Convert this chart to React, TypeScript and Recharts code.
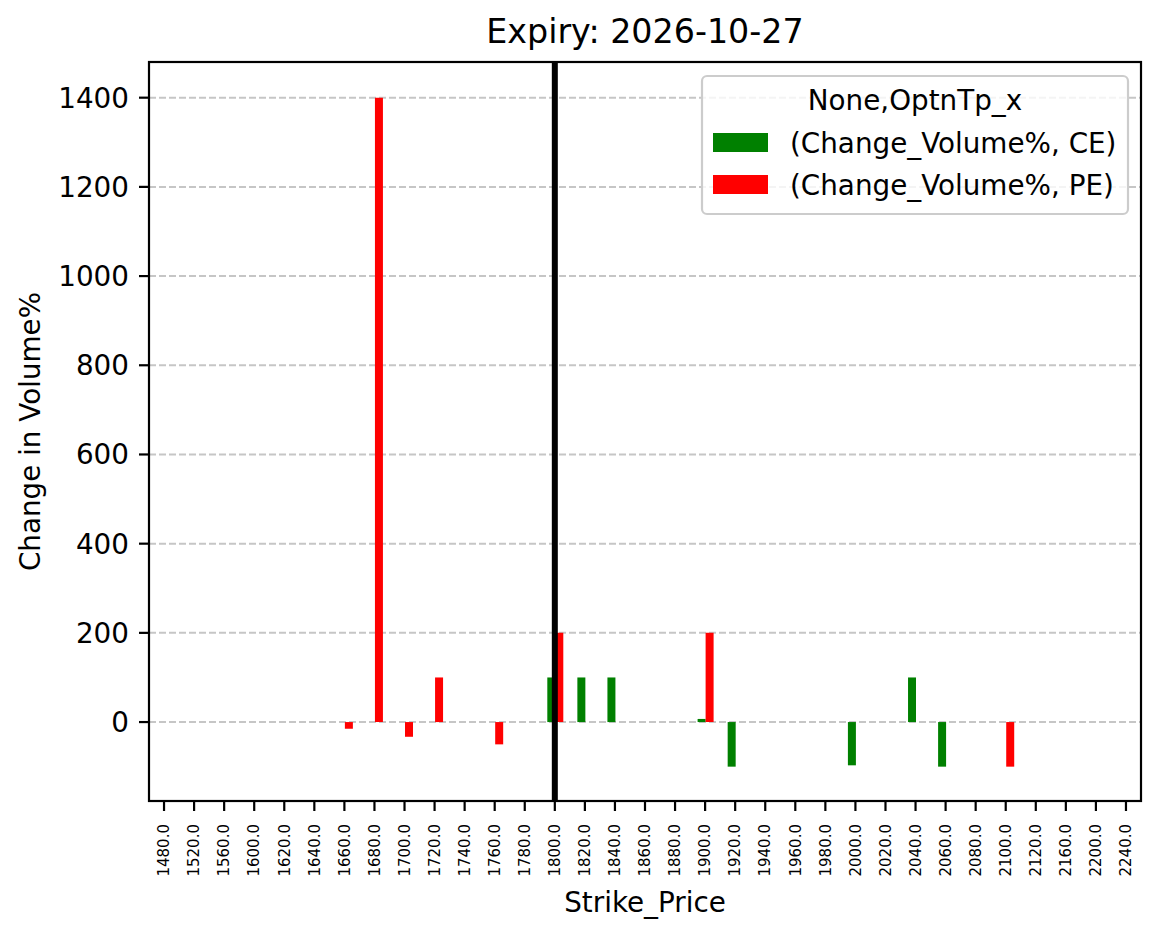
import { BarChart, Bar, XAxis, YAxis, CartesianGrid, ReferenceLine } from 'recharts';

const strikes = [
  '1480.0', '1520.0', '1560.0', '1600.0', '1620.0', '1640.0', '1660.0', '1680.0', '1700.0',
  '1720.0', '1740.0', '1760.0', '1780.0', '1800.0', '1820.0', '1840.0', '1860.0', '1880.0',
  '1900.0', '1920.0', '1940.0', '1960.0', '1980.0', '2000.0', '2020.0', '2040.0', '2060.0',
  '2080.0', '2100.0', '2120.0', '2160.0', '2200.0', '2240.0',
];

// Change_Volume% for calls (CE) and puts (PE); null = no bar
const ceValues = [
  null, null, null, null, null, null, null, null, null, null, null, null, null,
  100, 100, 100, null, null, 7, -100, null, null, null, -97, null, 100, -100,
  null, null, null, null, null, null,
];
const peValues = [
  null, null, null, null, null, null, -15, 1400, -33, 100, null, -50, null,
  200, null, null, null, null, 200, null, null, null, null, null, null, null, null,
  null, -100, null, null, null, null,
];

const yTicks = [0, 200, 400, 600, 800, 1000, 1200, 1400];
const spotStrike = '1800.0';

const series = [
  { key: 'ce', name: '(Change_Volume%, CE)', color: '#008000' },
  { key: 'pe', name: '(Change_Volume%, PE)', color: '#ff0000' },
];

const data = strikes.map((s, i) => ({ strike: s, ce: ceValues[i], pe: peValues[i] }));

const FONT = 'DejaVu Sans';
const W = 1161;
const H = 939;
const PLOT = { left: 149, top: 62, right: 1141, bottom: 801 };

const XTick = ({ x, y, payload }: any) => (
  <text
    x={x}
    y={y}
    transform={`rotate(-90 ${x} ${y})`}
    textAnchor="end"
    dy="0.35em"
    fontSize={15}
    fontFamily={FONT}
    fill="#000"
  >
    {payload.value}
  </text>
);

export default function App() {
  const cx = (PLOT.left + PLOT.right) / 2;
  const cy = (PLOT.top + PLOT.bottom) / 2;

  return (
    <div style={{ position: 'absolute', left: 0, top: 0, width: W, height: H, background: '#fff' }}>
      <BarChart
        width={W}
        height={H}
        data={data}
        margin={{ top: PLOT.top, right: W - PLOT.right, bottom: 0, left: 0 }}
        barCategoryGap="25%"
        barGap={0}
      >
        <CartesianGrid vertical={false} stroke="#c6c6c6" strokeWidth={2} strokeDasharray="7 3" />
        <XAxis
          dataKey="strike"
          interval={0}
          height={H - PLOT.bottom}
          axisLine={false}
          tickSize={10}
          tickMargin={13}
          tickLine={{ stroke: '#000', strokeWidth: 2.2 }}
          tick={<XTick />}
        />
        <YAxis
          width={PLOT.left}
          domain={[-177, 1480]}
          allowDataOverflow
          ticks={yTicks}
          axisLine={false}
          tickSize={10}
          tickMargin={10}
          tickLine={{ stroke: '#000', strokeWidth: 2.2 }}
          tick={{ fill: '#000', fontSize: 27.8, fontFamily: FONT }}
        />
        {series.map(s => (
          <Bar key={s.key} dataKey={s.key} name={s.name} fill={s.color} isAnimationActive={false} />
        ))}
        <ReferenceLine x={spotStrike} stroke="#000" strokeWidth={6} />
      </BarChart>

      <svg
        width={W}
        height={H}
        style={{ position: 'absolute', left: 0, top: 0, pointerEvents: 'none' }}
        fontFamily={FONT}
      >
        <rect
          x={PLOT.left}
          y={PLOT.top}
          width={PLOT.right - PLOT.left}
          height={PLOT.bottom - PLOT.top}
          fill="none"
          stroke="#000"
          strokeWidth={2.2}
        />
        <text x={cx} y={43} textAnchor="middle" fontSize={33.3} fill="#000">
          Expiry: 2026-10-27
        </text>
        <text x={cx} y={912} textAnchor="middle" fontSize={27.8} fill="#000">
          Strike_Price
        </text>
        <text
          x={40}
          y={cy}
          transform={`rotate(-90 40 ${cy})`}
          textAnchor="middle"
          fontSize={27.8}
          fill="#000"
        >
          Change in Volume%
        </text>

        {/* legend */}
        <rect x={702} y={76} width={426} height={138} rx={5} fill="#fff" fillOpacity={0.8} stroke="#cccccc" strokeWidth={2.2} />
        <text x={915} y={110} textAnchor="middle" fontSize={27.8} fill="#000">
          None,OptnTp_x
        </text>
        {series.map((s, i) => (
          <g key={s.key}>
            <rect x={713} y={133 + i * 42} width={55} height={19} fill={s.color} />
            <text x={790} y={153 + i * 42} fontSize={27.8} fill="#000">
              {s.name}
            </text>
          </g>
        ))}
      </svg>
    </div>
  );
}
